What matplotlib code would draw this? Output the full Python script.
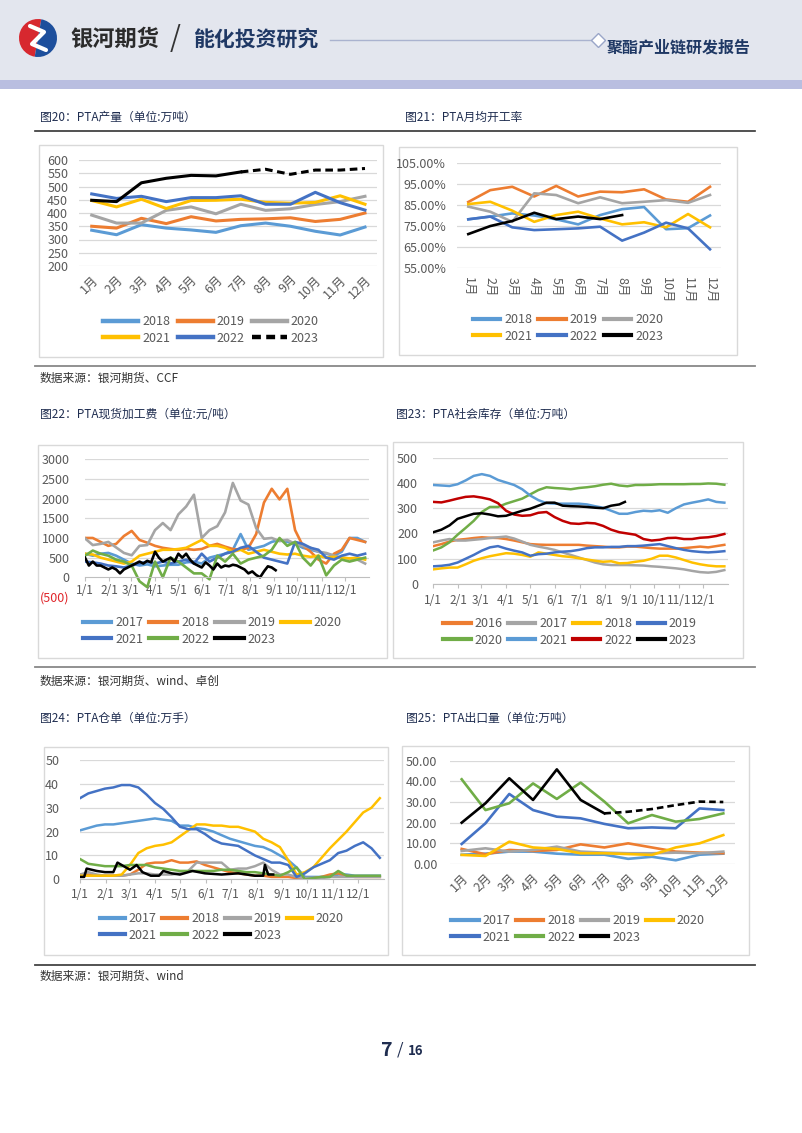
import matplotlib
matplotlib.use('Agg')
import matplotlib.pyplot as plt
from matplotlib.patches import Rectangle, Wedge
from matplotlib.lines import Line2D

plt.rcParams['font.family'] = ['Noto Sans CJK SC', 'DejaVu Sans']

# ---------------- data ----------------
months = ['1月', '2月', '3月', '4月', '5月', '6月', '7月', '8月', '9月', '10月', '11月', '12月']
month_days = [0, 31, 59, 90, 120, 151, 181, 212, 243, 273, 304, 334]
month_ticks = ['1/1', '2/1', '3/1', '4/1', '5/1', '6/1', '7/1', '8/1', '9/1', '10/1', '11/1', '12/1']
d10 = list(range(0, 361, 10))

# 图20 PTA产量
out18 = [335, 318, 356, 343, 336, 327, 352, 362, 350, 331, 317, 347]
out19 = [350, 343, 380, 360, 386, 370, 376, 378, 382, 368, 376, 400]
out20 = [392, 362, 362, 410, 423, 397, 433, 410, 416, 432, 443, 463]
out21 = [447, 423, 452, 417, 447, 448, 452, 440, 437, 440, 465, 433]
out22 = [472, 455, 463, 443, 458, 458, 465, 433, 433, 478, 439, 411]
out23 = [448, 443, 514, 531, 542, 540, 555, 565, 546, 562, 562, 568]  # 8月起为预估

# 图21 PTA月均开工率 (%)
rate18 = [78.2, 79.5, 81, 80, 78.2, 75.8, 80.2, 83, 84, 73.5, 74, 80]
rate19 = [86.4, 92, 93.6, 89, 94, 89, 91.3, 91, 92.4, 87.6, 86.5, 93.6]
rate20 = [84.2, 81.8, 77, 90.5, 89.7, 85.8, 88.6, 85.8, 86.5, 87.3, 86, 89.7]
rate21 = [85.4, 86.5, 82.3, 77, 80.2, 81.8, 78.6, 75.8, 76.8, 74.4, 80.7, 74.4]
rate22 = [78.2, 79.5, 74.4, 73.1, 73.5, 73.9, 74.7, 68.1, 71.9, 76.6, 73.9, 64]
rate23 = [71.2, 75, 77.4, 81.3, 78.3, 79.5, 78.3, 80.2]

# 图22 PTA现货加工费 (元/吨), 每10天取值
fee17 = [600, 550, 600, 620, 550, 450, 350, 300, 330, 280, 300, 320, 320, 380, 400, 350, 500, 550, 600, 700,
         1100, 700, 750, 800, 900, 950, 900, 850, 750, 700, 650, 600, 550, 650, 1000, 1000, 900]
fee18 = [1000, 1000, 900, 800, 850, 1050, 1180, 950, 880, 800, 750, 720, 700, 720, 700, 720, 800, 850, 780, 720,
         700, 750, 1100, 1900, 2250, 1980, 2250, 1200, 800, 650, 450, 350, 600, 700, 1000, 950, 900]
fee19 = [990, 820, 850, 900, 760, 620, 560, 800, 820, 1200, 1380, 1200, 1600, 1800, 2100, 1000, 1200, 1300, 1650, 2400,
         1950, 1850, 1250, 980, 1000, 920, 950, 850, 800, 750, 650, 620, 550, 500, 480, 450, 350]
fee20 = [600, 580, 500, 450, 400, 350, 400, 550, 600, 650, 700, 700, 720, 750, 850, 950, 800, 800, 750, 650,
         700, 600, 650, 700, 650, 600, 580, 600, 550, 520, 550, 500, 520, 500, 480, 500, 450]
fee21 = [400, 380, 350, 300, 280, 250, 300, 350, 400, 350, 400, 350, 400, 450, 350, 600, 400, 500, 600, 650,
         750, 800, 650, 500, 450, 400, 350, 900, 850, 750, 700, 500, 450, 550, 600, 550, 600]
fee22 = [550, 680, 600, 550, 450, 400, 300, -100, -250, 400, 0, 500, 400, 250, 100, 100, -50, 550, 400, 600,
         350, 450, 500, 550, 700, 1000, 800, 900, 500, 300, 550, 50, 300, 450, 400, 450, 500]
d5_23 = list(range(0, 246, 5))
fee23 = [500, 300, 400, 300, 300, 250, 200, 250, 200, 100, 200, 250, 300, 350, 400, 350, 420, 380, 650, 500,
         400, 450, 500, 400, 600, 500, 600, 450, 350, 300, 250, 380, 300, 200, 350, 250, 300, 280, 320, 300,
         250, 200, 100, 150, 60, 0, 150, 280, 250, 180]

# 图23 PTA社会库存 (万吨)
inv16 = [150, 158, 168, 175, 178, 182, 185, 183, 182, 178, 172, 165, 158, 156, 155, 155, 155, 155, 155, 152,
         150, 148, 145, 145, 148, 148, 145, 142, 140, 140, 140, 142, 145, 148, 145, 150, 155]
inv17 = [165, 172, 178, 172, 172, 175, 178, 182, 185, 188, 180, 168, 155, 148, 142, 135, 125, 115, 105, 95,
         85, 78, 75, 75, 75, 74, 73, 70, 68, 65, 62, 58, 52, 47, 45, 48, 55]
inv18 = [58, 62, 65, 65, 78, 92, 102, 110, 116, 122, 120, 115, 108, 125, 120, 115, 110, 107, 102, 97,
         92, 88, 90, 82, 83, 88, 92, 100, 112, 112, 105, 95, 85, 78, 73, 70, 70]
inv19 = [70, 72, 76, 85, 100, 115, 132, 145, 150, 140, 132, 125, 112, 118, 120, 125, 128, 130, 135, 142,
         145, 145, 147, 147, 150, 150, 152, 155, 158, 150, 142, 135, 130, 127, 125, 127, 130]
inv20 = [133, 145, 165, 195, 222, 250, 285, 305, 305, 318, 328, 338, 355, 372, 383, 380, 378, 375, 380, 383,
         387, 393, 397, 390, 387, 392, 392, 393, 395, 395, 395, 395, 396, 396, 398, 397, 393]
inv21 = [392, 390, 388, 395, 410, 428, 435, 428, 412, 402, 392, 375, 350, 332, 320, 318, 318, 318, 318, 315,
         308, 302, 290, 278, 278, 285, 290, 288, 292, 282, 300, 315, 322, 328, 335, 325, 322]
inv22 = [325, 323, 330, 338, 345, 347, 342, 335, 320, 290, 275, 270, 272, 282, 285, 265, 250, 240, 238, 242,
         240, 230, 215, 205, 200, 195, 178, 172, 175, 182, 183, 178, 178, 183, 185, 190, 198]
inv23_days = [0, 10, 20, 30, 40, 50, 60, 70, 80, 90, 100, 110, 120, 130, 140, 150, 160, 170, 180, 190,
              200, 210, 220, 230, 237]
inv23 = [205, 215, 232, 258, 268, 278, 280, 275, 268, 270, 280, 290, 298, 310, 322, 322, 310, 308, 307, 305,
         302, 300, 310, 315, 325]

# 图24 PTA仓单 (万手)
wr17 = [20.5, 21.5, 22.5, 23, 23, 23.5, 24, 24.5, 25, 25.5, 25, 24.5, 22.5, 22.5, 21.5, 21, 20, 18.5, 17, 16,
        15, 14, 13.5, 12, 10, 8, 5, 1, 1, 1, 1, 2, 2, 1.5, 1.5, 1.5, 1.5]
wr18 = [2, 2, 1.5, 1.5, 1.5, 1.5, 2, 4, 6.5, 7, 7, 8, 7, 7, 7.5, 6, 5, 4, 3, 2.5,
        2, 1.5, 1.5, 1, 1, 1, 0.5, 0.5, 0.5, 1, 2, 2.5, 1.5, 1, 1, 1, 1]
wr19 = [2, 3, 2, 1.5, 1.5, 1.5, 2, 2.5, 2.5, 2, 2, 2, 2.5, 3.5, 7, 7, 7, 7, 4, 4.5,
        4.5, 5.5, 7, 4, 2, 2, 1, 0.5, 0.5, 0.5, 1, 1, 1, 1, 1, 1, 1]
wr20 = [1.5, 1.5, 1.5, 1.5, 1.5, 2, 6, 11, 13, 14, 14.5, 15.5, 18, 20.5, 23, 23, 22.5, 22.5, 22, 22,
        21, 20, 17, 15.5, 13.5, 8, 2, 3, 5, 9, 13, 16.5, 20, 24, 28, 30, 34]
wr21 = [34, 36, 37, 38, 38.5, 39.5, 39.5, 38.5, 35.5, 32, 29.5, 26, 22, 21, 21, 19, 16.5, 15, 14.5, 14,
        12, 10, 8.5, 7, 7, 6, 1, 2.5, 5, 6.5, 8, 11, 12, 14, 15.5, 13, 9]
wr22 = [8.5, 6.5, 6, 5.5, 5.5, 5.5, 6, 6, 6, 5, 4.5, 4, 3.5, 3.5, 3.5, 3.5, 3.5, 4, 4, 3.5,
        3, 3, 2.5, 2, 1.5, 3, 5, 0, 0.5, 1, 1, 3.5, 1.5, 1.5, 1.5, 1.5, 1.5]
wr23_days = [0, 5, 8, 20, 30, 40, 45, 55, 60, 68, 75, 85, 95, 100, 110, 120, 135, 150, 170, 190, 210, 220, 222, 226, 232]
wr23 = [1, 1, 4.5, 3.5, 3, 3, 7, 5, 4, 6, 3, 1.5, 1.5, 3.5, 2.5, 2, 3.5, 2.5, 2, 2.5, 1.5, 1.5, 6, 2, 2]

# 图25 PTA出口量 (万吨)
ex17 = [4.5, 5, 6, 6, 5, 4.5, 4.5, 2.5, 3.5, 1.8, 4.5, 5]
ex18 = [7.3, 4.7, 6.8, 6.3, 6.8, 9.5, 8, 10, 8, 6, 5.5, 5.2]
ex19 = [6.3, 7.6, 6, 6.8, 8.4, 6, 5.5, 5.2, 5.2, 5.5, 5.2, 6]
ex20 = [4.4, 3.9, 10.8, 8, 7.3, 5.2, 5.2, 4.8, 4.4, 8, 10, 14]
ex21 = [9.7, 19.7, 33.9, 26.1, 22.9, 22.1, 19.4, 17.3, 17.7, 17.3, 26.9, 26.1]
ex22 = [41, 26.1, 29.4, 39, 31.5, 39.4, 30.2, 19.7, 23.7, 20.5, 21.8, 24.5]
ex23 = [20, 29.4, 41.5, 31, 45.8, 31, 24.5, 25.3, 26.6, 28.5, 30.2, 30]  # 8月起为预估

LB, OR, GR, YE, BL, GN, RD = '#5b9bd5', '#ed7d31', '#a5a5a5', '#ffc000', '#4472c4', '#70ad47', '#c00000'
TXT = '#595959'

# ---------------- page ----------------
W, H = 802, 1133
fig = plt.figure(figsize=(W / 100, H / 100), dpi=100)
bg = fig.add_axes([0, 0, 1, 1])
bg.set_xlim(0, W)
bg.set_ylim(H, 0)
bg.axis('off')


def frac(x0, y0, x1, y1):
    return [x0 / W, 1 - y1 / H, (x1 - x0) / W, (y1 - y0) / H]


# header
bg.add_patch(Rectangle((0, 0), W, 80, color='#e3e6ee', lw=0))
bg.add_patch(Rectangle((0, 80), W, 9, color='#b9bee0', lw=0))
bg.add_patch(Wedge((38, 38), 19, 100, 280, color='#d7282f', lw=0))
bg.add_patch(Wedge((38, 38), 19, 280, 100, color='#1d4f9c', lw=0))
bg.plot([30, 44, 32, 46], [26, 32, 44, 50], color='white', lw=3, solid_capstyle='round')
bg.text(70, 39, '银河期货', fontsize=16, fontweight='bold', color='#2b2b2b', va='center')
bg.text(170, 39, '/', fontsize=20, color='#333333', va='center')
bg.text(193, 39, '能化投资研究', fontsize=15, fontweight='bold', color='#1f3864', va='center')
bg.plot([330, 592], [40, 40], color='#aab3cf', lw=1)
bg.plot([598], [40], marker='D', ms=7, mfc='white', mec='#9aa6c8', mew=1)
bg.text(607, 47, '聚酯产业链研发报告', fontsize=11.5, fontweight='bold', color='#1f3864', va='center')

# titles, rules, sources
TCOL = '#1f2d50'
for x, y, s in [(40, 117, '图20：PTA产量（单位:万吨）'), (405, 117, '图21：PTA月均开工率'),
                (40, 414, '图22：PTA现货加工费（单位:元/吨）'), (396, 414, '图23：PTA社会库存（单位:万吨）'),
                (40, 718, '图24：PTA仓单（单位:万手）'), (406, 718, '图25：PTA出口量（单位:万吨）')]:
    bg.text(x, y, s, fontsize=8.5, color=TCOL, va='center')
bg.plot([35, 755], [131, 131], color='#333333', lw=1.2)
for y, c in [(366, '#888888'), (667, '#888888'), (965, '#444444')]:
    bg.plot([35, 755], [y, y], color=c, lw=1.3)
for y, s in [(378, '数据来源：银河期货、CCF'), (681, '数据来源：银河期货、wind、卓创'), (976, '数据来源：银河期货、wind')]:
    bg.text(40, y, s, fontsize=8.5, color='#333333', va='center')

# chart frames
for x0, y0, x1, y1 in [(39, 145, 383, 357), (399, 147, 737, 355), (38, 445, 387, 658),
                       (393, 442, 743, 658), (44, 747, 388, 955), (402, 746, 749, 955)]:
    bg.add_patch(Rectangle((x0, y0), x1 - x0, y1 - y0, fill=False, ec='#d9d9d9', lw=1))

# page number
bg.text(393, 1050, '7', fontsize=14, fontweight='bold', color='#1f2d50', ha='right', va='center')
bg.text(397, 1050, '/', fontsize=12, color='#1f2d50', va='center')
bg.text(408, 1051, '16', fontsize=9.5, fontweight='bold', color='#1f2d50', va='center')


def setup(ax):
    for s in ax.spines.values():
        s.set_visible(False)
    ax.tick_params(length=0, labelsize=9, labelcolor=TXT)
    ax.set_axisbelow(True)


def date_axis(ax):
    ax.set_xlim(0, 365)
    ax.set_xticks(month_days)
    ax.set_xticklabels(month_ticks)
    ax.spines['bottom'].set_visible(True)
    ax.spines['bottom'].set_color('#bfbfbf')
    ax.tick_params(axis='x', length=3, color='#bfbfbf', pad=2, labelsize=8.5)


def legend(ax, items, order, cx, cy, ncol, hl, cs, lw=3):
    hs = []
    for i in order:
        lab, c, ls = items[i]
        hs.append(Line2D([], [], color=c, lw=lw, ls=ls, label=lab))
    ax.legend(handles=hs, loc='center', bbox_to_anchor=(cx / W, 1 - cy / H), bbox_transform=fig.transFigure,
              ncol=ncol, frameon=False, fontsize=9, handlelength=hl, handletextpad=0.3, columnspacing=cs,
              labelspacing=0.25, labelcolor=TXT, borderpad=0)


dash = (0, (2.5, 1.5))

# ---- 图20 ----
ax = fig.add_axes(frac(79.3, 160, 377.4, 266))
setup(ax)
x12 = list(range(12))
for s, c in zip([out18, out19, out20, out21, out22], [LB, OR, GR, YE, BL]):
    ax.plot(x12, s, color=c, lw=2.2)
ax.plot(x12[:7], out23[:7], color='black', lw=2.2)
ax.plot(x12[6:], out23[6:], color='black', lw=2.2, ls=dash)
ax.set_xlim(-0.5, 11.5)
ax.set_ylim(200, 600)
ax.set_yticks(range(200, 601, 50))
ax.yaxis.grid(True, color='#d9d9d9', lw=0.9)
ax.set_xticks(x12)
ax.set_xticklabels(months, rotation=45, ha='right', va='top', rotation_mode='anchor')
ax.tick_params(axis='y', pad=8)
ax.tick_params(axis='x', pad=5)
items = [('2018', LB, '-'), ('2019', OR, '-'), ('2020', GR, '-'), ('2021', YE, '-'), ('2022', BL, '-'),
         ('2023', 'black', (0, (2, 1.2)))]
legend(ax, items, [0, 3, 1, 4, 2, 5], 211, 330, 3, 2.8, 0.6, lw=3.2)

# ---- 图21 ----
ax = fig.add_axes(frac(457.3, 162.7, 721, 268.3))
setup(ax)
for s, c in zip([rate18, rate19, rate20, rate21, rate22], [LB, OR, GR, YE, BL]):
    ax.plot(x12, s, color=c, lw=1.9)
ax.plot(x12[:8], rate23, color='black', lw=1.9)
ax.set_xlim(-0.5, 11.5)
ax.set_ylim(55, 105)
ax.set_yticks(range(55, 106, 10))
ax.set_yticklabels([f'{v:.2f}%' for v in range(55, 106, 10)])
ax.yaxis.grid(True, color='#d9d9d9', lw=0.9)
ax.set_xticks(x12)
ax.set_xticklabels(months, rotation=-90, ha='center', va='top')
ax.tick_params(axis='y', pad=8)
ax.tick_params(axis='x', pad=6)
items = [('2018', LB, '-'), ('2019', OR, '-'), ('2020', GR, '-'), ('2021', YE, '-'), ('2022', BL, '-'),
         ('2023', 'black', '-')]
legend(ax, items, [0, 3, 1, 4, 2, 5], 568, 328, 3, 2.2, 0.5)

# ---- 图22 ----
ax = fig.add_axes(frac(85, 459.3, 369, 597))
setup(ax)
for s, c in zip([fee17, fee18, fee19, fee20, fee21, fee22], [LB, OR, GR, YE, BL, GN]):
    ax.plot(d10, s, color=c, lw=1.9)
ax.plot(d5_23, fee23, color='black', lw=1.9)
yt22 = list(range(-500, 3001, 500))
ax.set_ylim(-500, 3000)
ax.set_yticks(yt22)
ax.set_yticklabels([f'({-v})' if v < 0 else str(v) for v in yt22])
ax.get_yticklabels()[0].set_color('#e0262b')
for v in yt22[2:]:
    ax.axhline(v, color='#d9d9d9', lw=0.9, zorder=0)
date_axis(ax)
ax.spines['bottom'].set_position(('data', 0))
ax.tick_params(axis='y', pad=11)
items = [('2017', LB, '-'), ('2018', OR, '-'), ('2019', GR, '-'), ('2020', YE, '-'), ('2021', BL, '-'),
         ('2022', GN, '-'), ('2023', 'black', '-')]
legend(ax, items, [0, 4, 1, 5, 2, 6, 3], 212, 631, 4, 2.3, 0.45)

# ---- 图23 ----
ax = fig.add_axes(frac(433.3, 457.7, 728.4, 584))
setup(ax)
for s, c in zip([inv16, inv17, inv18, inv19, inv20, inv21, inv22], [OR, GR, YE, BL, GN, LB, RD]):
    ax.plot(d10, s, color=c, lw=1.8)
ax.plot(inv23_days, inv23, color='black', lw=1.8)
ax.set_ylim(0, 500)
ax.set_yticks(range(0, 501, 100))
ax.yaxis.grid(True, color='#d9d9d9', lw=0.9)
date_axis(ax)
ax.tick_params(axis='y', pad=11)
ax.tick_params(axis='x', pad=4)
items = [('2016', OR, '-'), ('2017', GR, '-'), ('2018', YE, '-'), ('2019', BL, '-'), ('2020', GN, '-'),
         ('2021', LB, '-'), ('2022', RD, '-'), ('2023', 'black', '-')]
legend(ax, items, [0, 4, 1, 5, 2, 6, 3, 7], 570, 632, 4, 2.2, 0.45)

# ---- 图24 ----
ax = fig.add_axes(frac(80, 760, 384, 879.3))
setup(ax)
for s, c in zip([wr17, wr18, wr19, wr20, wr21, wr22], [LB, OR, GR, YE, BL, GN]):
    ax.plot(d10, s, color=c, lw=1.8)
ax.plot(wr23_days, wr23, color='black', lw=1.8)
ax.set_ylim(0, 50)
ax.set_yticks(range(0, 51, 10))
ax.yaxis.grid(True, color='#d9d9d9', lw=0.9)
date_axis(ax)
ax.tick_params(axis='y', pad=15)
ax.tick_params(axis='x', pad=3)
items = [('2017', LB, '-'), ('2018', OR, '-'), ('2019', GR, '-'), ('2020', YE, '-'), ('2021', BL, '-'),
         ('2022', GN, '-'), ('2023', 'black', '-')]
legend(ax, items, [0, 4, 1, 5, 2, 6, 3], 222, 927, 4, 2.0, 0.45)

# ---- 图25 ----
ax = fig.add_axes(frac(449.8, 760.7, 735.2, 864))
setup(ax)
for s, c in zip([ex17, ex18, ex19, ex20, ex21, ex22], [LB, OR, GR, YE, BL, GN]):
    ax.plot(x12, s, color=c, lw=1.9)
ax.plot(x12[:7], ex23[:7], color='black', lw=1.9)
ax.plot(x12[6:], ex23[6:], color='black', lw=1.9, ls=dash)
ax.set_xlim(-0.5, 11.5)
ax.set_ylim(0, 50)
ax.set_yticks(range(0, 51, 10))
ax.set_yticklabels([f'{v:.2f}' for v in range(0, 51, 10)])
ax.yaxis.grid(True, color='#d9d9d9', lw=0.9)
ax.set_xticks(x12)
ax.set_xticklabels(months, rotation=45, ha='right', va='top', rotation_mode='anchor')
ax.tick_params(axis='y', pad=9)
ax.tick_params(axis='x', pad=5)
items = [('2017', LB, '-'), ('2018', OR, '-'), ('2019', GR, '-'), ('2020', YE, '-'), ('2021', BL, '-'),
         ('2022', GN, '-'), ('2023', 'black', '-')]
legend(ax, items, [0, 4, 1, 5, 2, 6, 3], 578, 929, 4, 2.2, 0.45)

fig.savefig('out.png', dpi=100)
